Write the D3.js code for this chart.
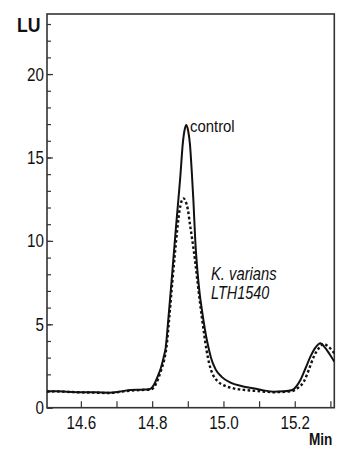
<!DOCTYPE html>
<html>
<head>
<meta charset="utf-8">
<script src="https://cdn.jsdelivr.net/npm/d3@7"></script>
<style>
  html, body { margin: 0; padding: 0; background: #fff; }
  svg { display: block; }
  text { font-family: "Liberation Sans", Arial, sans-serif; fill: #111; }
</style>
</head>
<body>
<svg id="chart" width="337" height="449"></svg>
<script>
// Fluorescence trace of the control sample (solid line)
const controlTime = [14.505, 14.53, 14.56, 14.60, 14.64, 14.68, 14.71, 14.74, 14.77, 14.79,
  14.800, 14.808, 14.816, 14.824, 14.832, 14.838, 14.846, 14.854, 14.860, 14.866,
  14.871, 14.879, 14.886, 14.891, 14.896, 14.901, 14.906, 14.911, 14.916, 14.921,
  14.927, 14.933, 14.940, 14.948, 14.956, 14.965, 14.978, 14.995, 15.02, 15.05,
  15.083, 15.11, 15.14, 15.17, 15.193, 15.205, 15.216, 15.230, 15.244, 15.258,
  15.272, 15.285, 15.298, 15.311];
const controlLU = [0.98, 0.98, 0.96, 0.92, 0.92, 0.90, 0.97, 1.06, 1.08, 1.10,
  1.22, 1.50, 1.90, 2.35, 3.00, 3.60, 5.46, 7.46, 9.05, 10.6,
  11.85, 13.85, 15.85, 16.65, 16.95, 16.6, 15.8, 14.2, 12.3, 10.0,
  8.2, 6.9, 5.8, 4.7, 3.8, 3.0, 2.3, 1.85, 1.5, 1.3,
  1.17, 1.05, 0.96, 0.98, 1.06, 1.30, 1.66, 2.35, 3.06, 3.60,
  3.86, 3.60, 3.20, 2.76];

// Fluorescence trace of the K. varians LTH1540 sample (dotted line)
const variansTime = [14.505, 14.53, 14.56, 14.60, 14.64, 14.68, 14.71, 14.74, 14.77, 14.795,
  14.803, 14.810, 14.818, 14.826, 14.834, 14.840, 14.848, 14.856, 14.863, 14.870,
  14.877, 14.882, 14.888, 14.894, 14.900, 14.906, 14.913, 14.921, 14.927, 14.933,
  14.939, 14.946, 14.953, 14.960, 14.970, 14.983, 15.000, 15.028, 15.06, 15.084,
  15.11, 15.14, 15.17, 15.193, 15.21, 15.225, 15.240, 15.253, 15.267, 15.281,
  15.295, 15.311];
const variansLU = [0.96, 0.98, 0.95, 0.92, 0.90, 0.88, 0.95, 1.02, 1.06, 1.08,
  1.18, 1.40, 1.80, 2.30, 2.90, 3.60, 5.40, 7.40, 9.05, 10.6,
  11.85, 12.35, 12.55, 12.35, 11.9, 11.0, 10.0, 8.7, 7.6, 6.5,
  5.5, 4.4, 3.4, 2.65, 2.0, 1.6, 1.35, 1.16, 1.06, 1.02,
  0.97, 0.93, 0.95, 1.00, 1.20, 1.54, 2.30, 3.04, 3.55, 3.82,
  3.65, 3.26];

// Axis ticks and labels
const xMinorTicks = [14.6, 14.7, 14.8, 14.9, 15.0, 15.1, 15.2, 15.3];
const xLabelTicks = [14.6, 14.8, 15.0, 15.2];
const xTickLabels = ["14.6", "14.8", "15.0", "15.2"];
const yMinorTicks = d3.range(0, 24, 1);
const yLabelTicks = [0, 5, 10, 15, 20];
const yTickLabels = ["0", "5", "10", "15", "20"];

const xDomain = [14.505, 15.311];
const yDomain = [0, 23.6];

const svg = d3.select("#chart");
const margin = { top: 14, right: 2.7, bottom: 41.3, left: 47 };
const W = 337, H = 449;
const iw = W - margin.left - margin.right;
const ih = H - margin.top - margin.bottom;

const x = d3.scaleLinear().domain(xDomain).range([margin.left, margin.left + iw]);
const y = d3.scaleLinear().domain(yDomain).range([margin.top + ih, margin.top]);

const axisColor = "#333";
const tickFont = 19;

// Narrow the glyphs of a text selection to a fraction of their natural width
function condense(sel, ratio) {
  sel.each(function () {
    const len = this.getComputedTextLength();
    d3.select(this).attr("textLength", len * ratio).attr("lengthAdjust", "spacingAndGlyphs");
  });
}

// Minor y ticks (inside the frame)
svg.append("g")
  .attr("transform", `translate(${margin.left},0)`)
  .call(d3.axisLeft(y).tickValues(yMinorTicks).tickSize(-4).tickFormat(""))
  .call(g => g.select(".domain").remove())
  .call(g => g.selectAll("line").attr("stroke", axisColor).attr("stroke-width", 1.2));

// Major y ticks with labels
const yAxisG = svg.append("g")
  .attr("transform", `translate(${margin.left},0)`)
  .call(d3.axisLeft(y).tickValues(yLabelTicks).tickSize(-6).tickPadding(3)
    .tickFormat((d, i) => yTickLabels[i]))
  .call(g => g.select(".domain").remove())
  .call(g => g.selectAll("line").attr("stroke", axisColor).attr("stroke-width", 1.2));
yAxisG.selectAll("text")
  .attr("font-size", tickFont)
  .attr("font-family", "Liberation Sans, Arial, sans-serif")
  .attr("fill", "#111");

// x ticks every 0.1 min
svg.append("g")
  .attr("transform", `translate(0,${margin.top + ih})`)
  .call(d3.axisBottom(x).tickValues(xMinorTicks).tickSize(-6.5).tickFormat(""))
  .call(g => g.select(".domain").remove())
  .call(g => g.selectAll("line").attr("stroke", axisColor).attr("stroke-width", 1.2));

const xAxisG = svg.append("g")
  .attr("transform", `translate(0,${margin.top + ih})`)
  .call(d3.axisBottom(x).tickValues(xLabelTicks).tickSize(0).tickPadding(8)
    .tickFormat((d, i) => xTickLabels[i]))
  .call(g => g.select(".domain").remove());
xAxisG.selectAll("text")
  .attr("font-size", tickFont)
  .attr("font-family", "Liberation Sans, Arial, sans-serif")
  .attr("fill", "#111");

condense(yAxisG.selectAll("text"), 0.8);
condense(xAxisG.selectAll("text"), 0.8);

// Plot frame
svg.append("rect")
  .attr("x", margin.left).attr("y", margin.top)
  .attr("width", iw).attr("height", ih)
  .attr("fill", "none").attr("stroke", axisColor).attr("stroke-width", 1.6);

// Traces
svg.append("clipPath").attr("id", "plotClip")
  .append("rect").attr("x", margin.left).attr("y", margin.top).attr("width", iw).attr("height", ih);

const line = d3.line()
  .x(d => x(d[0]))
  .y(d => y(d[1]))
  .curve(d3.curveMonotoneX);

const traces = svg.append("g").attr("clip-path", "url(#plotClip)");

traces.append("path")
  .datum(d3.zip(variansTime, variansLU))
  .attr("d", line)
  .attr("fill", "none")
  .attr("stroke", "#111")
  .attr("stroke-width", 2.4)
  .attr("stroke-dasharray", "2.6,2.4");

traces.append("path")
  .datum(d3.zip(controlTime, controlLU))
  .attr("d", line)
  .attr("fill", "none")
  .attr("stroke", "#111")
  .attr("stroke-width", 2);

// Axis titles
const lu = svg.append("text")
  .attr("x", 17).attr("y", 32)
  .attr("font-size", 21).attr("font-weight", "bold")
  .text("LU");
condense(lu, 0.84);

const minT = svg.append("text")
  .attr("x", 309).attr("y", 445)
  .attr("font-size", 16).attr("font-weight", "bold")
  .text("Min");
condense(minT, 0.85);

// Trace labels
const ctl = svg.append("text")
  .attr("x", 190).attr("y", 132)
  .attr("font-size", 16)
  .text("control");
condense(ctl, 0.93);

const kv1 = svg.append("text")
  .attr("x", 211).attr("y", 280)
  .attr("font-size", 18).attr("font-style", "italic")
  .text("K. varians");
condense(kv1, 0.82);

const kv2 = svg.append("text")
  .attr("x", 211).attr("y", 299)
  .attr("font-size", 18).attr("font-style", "italic")
  .text("LTH1540");
condense(kv2, 0.8);
</script>
</body>
</html>
